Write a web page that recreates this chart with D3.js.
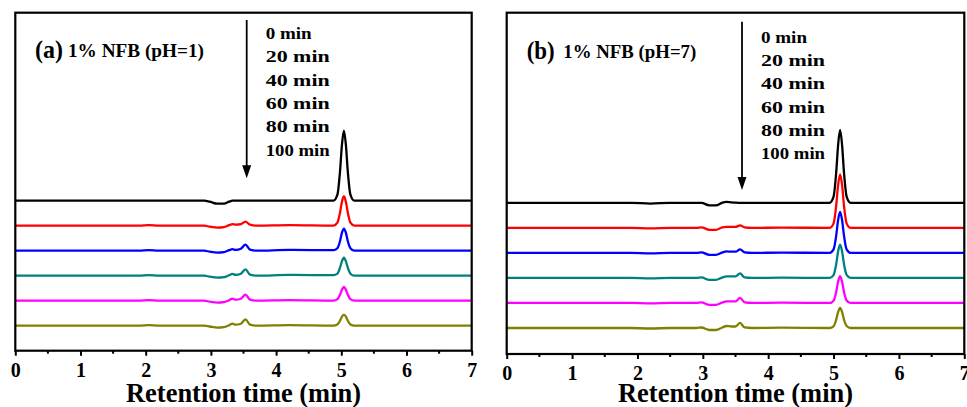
<!DOCTYPE html>
<html><head><meta charset="utf-8">
<script src="https://cdn.jsdelivr.net/npm/d3@7"></script>
<style>body{margin:0;background:#fff}svg{display:block}text{font-family:"Liberation Serif","Times New Roman",serif;font-weight:bold;fill:#000}</style>
</head><body><svg id="c" width="967" height="407"></svg>
<script>
// ---- data ----
const legendLabels = ["0 min","20 min","40 min","60 min","80 min","100 min"];
const colors = ["#000000","#ff0000","#0000ff","#008080","#ff00ff","#808000"];
const xTicks = [0,1,2,3,4,5,6,7];
const offsets = [125,100,75,50,25,0];

const timeA = [0,1.9,2.05,2.2,2.9,2.98,3.1,3.2,3.28,3.33,3.38,3.46,3.53,3.6,3.7,4.2,4.88,4.94,4.98,5.01,5.04,5.07,5.10,5.14,5.20,7];
const a0   = [0,0,0,0, 0,-1,-3,-3,-1,0,0,0,0,0,0, 0, 0,6,29,56,70,56,29,6,0, 0];
const a20  = [0,0,0.5,0, 0,-1,-2,-1.5,0.5,1.5,1,1.5,4,1,0, 0.5, 0,3,13,24,29.5,24,13,3,0, 0];
const a40  = [0,0,0.5,0, 0,-1,-2,-1.5,0.5,1.5,0.8,2,6,1,0, 0.8, 0.5,2.5,9.5,18,22,18,9.5,2.5,0, 0];
const a60  = [0,0,0.5,0, 0,-1,-2,-1.5,0.5,1.8,0.8,2,6.4,1,0, 0.8, 0.5,2,8,14.5,18,14.5,8,2,0, 0];
const a80  = [0,0,0.5,0, 0,-1,-2,-1.5,0.5,2,1,2,6,1,0, 0.5, 0,1.5,6,11,13.7,11,6,1.5,0, 0];
const a100 = [0,0,0.5,0, 0,-0.8,-2,-1.5,0.5,2,1,2,6.4,1,0, 0.5, 0,1.2,5,9,11,9,5,1.2,0, 0];

const timeB = [0,1.9,2.2,2.5,2.9,2.98,3.1,3.2,3.3,3.36,3.44,3.5,3.57,3.64,3.75,4.2,4.94,5.00,5.04,5.07,5.10,5.13,5.16,5.20,5.26,7];
const b0   = [0,0,-0.7,0, 0,0,-2.5,-2.5,0.3,1,0.5,0.2,0,0,0, 0, 0,6.2,30,58,73,58,30,6.2,0, 0];
const b20  = [0,0,-0.5,0, 0,0.5,-2,-2,0.5,1,1,1,2.5,0.5,0, 0.3, 0,4.5,22,43,53.4,43,22,4.5,0, 0];
const b40  = [0,0,-0.5,0, 0,0.5,-2,-2,0.5,1.5,1.2,1.2,3.5,0.5,0, 0.3, 0,3.5,17,33,41,33,17,3.5,0, 0];
const b60  = [0,0,-0.5,0, 0,0.5,-2,-2,0.5,1.5,1.5,1.5,4.5,0.5,0, 0.3, 0,2.8,13.7,26.7,33.3,26.7,13.7,3,0, 0];
const b80  = [0,0,-0.5,0, 0,0.5,-2,-2,0.5,1.5,1.5,1.5,5,0.5,0, 0.3, 0,2.3,11,21.4,26.7,21.4,11,2.5,0, 0];
const b100 = [0,0,-0.5,0, 0,0.5,-2,-2,0.5,2,1.5,1.5,5,0.5,0, 0.3, 0,1.7,8.2,16,20,16,8.2,2,0, 0];

const panels = [
  {letter:"(a)", title:"1% NFB (pH=1)", time:timeA, series:[a0,a20,a40,a60,a80,a100],
   box:{l:15.3,r:471.7,t:12.7,b:350.7}, yDom:[-25,313],
   lab:{x:35,y:57.5,tx:68,tw:136}, leg:{x:265.7,y:39,w:[46,64,64,64,64,64]}, arrow:{x:246.7,y1:20,y2:178.3}},
  {letter:"(b)", title:"1% NFB (pH=7)", time:timeB, series:[b0,b20,b40,b60,b80,b100],
   box:{l:506.7,r:964.3,t:12.7,b:354}, yDom:[-26,315],
   lab:{x:526.7,y:58.5,tx:563.3,tw:133}, leg:{x:761,y:42.7,w:[46,64,64,64,64,64]}, arrow:{x:742,y1:21.7,y2:190}}
];

const svg = d3.select("#c");
const defs = svg.append("defs");

panels.forEach(p=>{
  const B=p.box;
  const x=d3.scaleLinear().domain([0,7]).range([B.l,B.r]);
  const y=d3.scaleLinear().domain(p.yDom).range([B.b,B.t]);
  const g=svg.append("g");
  const clip="clip"+p.letter.replace(/[()]/g,"");
  defs.append("clipPath").attr("id",clip).append("rect").attr("x",B.l).attr("y",B.t).attr("width",B.r-B.l).attr("height",B.b-B.t);
  const gl=g.append("g").attr("clip-path",`url(#${clip})`);
  p.series.forEach((s,i)=>{
    const line=d3.line().x((d,j)=>x(p.time[j])).y(d=>y(d+offsets[i])).curve(d3.curveMonotoneX);
    gl.append("path").attr("d",line(s)).attr("fill","none").attr("stroke",colors[i]).attr("stroke-width",2.3).attr("stroke-linejoin","round");
  });
  // bottom axis
  const ax=d3.axisBottom(x).tickValues(xTicks).tickSize(5).tickFormat(d3.format("d"));
  const axg=g.append("g").attr("transform",`translate(0,${B.b})`).call(ax)
    .attr("font-family",'"Liberation Serif",serif').attr("font-size",20);
  axg.select(".domain").remove();
  axg.selectAll(".tick line").attr("stroke","#000").attr("stroke-width",2);
  axg.selectAll(".tick text").attr("dy",0).attr("y",26).attr("fill","#000")
    .style("font-family",'"Liberation Serif",serif').style("font-weight","bold").style("font-size","20px");
  const minor=d3.range(0,7,1).map(v=>v+0.5);
  axg.selectAll(".minor").data(minor).enter().append("line").attr("x1",d=>x(d)).attr("x2",d=>x(d)).attr("y1",0).attr("y2",3).attr("stroke","#000").attr("stroke-width",2);
  // frame
  g.append("rect").attr("x",B.l).attr("y",B.t).attr("width",B.r-B.l).attr("height",B.b-B.t).attr("fill","none").attr("stroke","#000").attr("stroke-width",2.2);
  // axis title
  g.append("text").attr("x",(B.l+B.r)/2).attr("y",402).attr("text-anchor","middle").attr("font-size",28)
    .attr("textLength",235).attr("lengthAdjust","spacingAndGlyphs").text("Retention time (min)");
  // panel label
  g.append("text").attr("x",p.lab.x).attr("y",p.lab.y).attr("font-size",25).attr("textLength",28).attr("lengthAdjust","spacingAndGlyphs").text(p.letter);
  g.append("text").attr("x",p.lab.tx).attr("y",p.lab.y-0.5).attr("font-size",18).attr("textLength",p.lab.tw).attr("lengthAdjust","spacingAndGlyphs").text(p.title);
  // legend list
  legendLabels.forEach((t,i)=>{
    g.append("text").attr("x",p.leg.x).attr("y",p.leg.y+i*23.33).attr("font-size",17)
      .attr("textLength",p.leg.w[i]).attr("lengthAdjust","spacingAndGlyphs").text(t);
  });
  // arrow
  const A=p.arrow;
  g.append("line").attr("x1",A.x).attr("x2",A.x).attr("y1",A.y1).attr("y2",A.y2-10)
    .attr("stroke","#000").attr("stroke-width",1.8);
  g.append("path").attr("d",`M${A.x-4.5},${A.y2-13} L${A.x+4.5},${A.y2-13} L${A.x},${A.y2} Z`).attr("fill","#000");
});
</script></body></html>
